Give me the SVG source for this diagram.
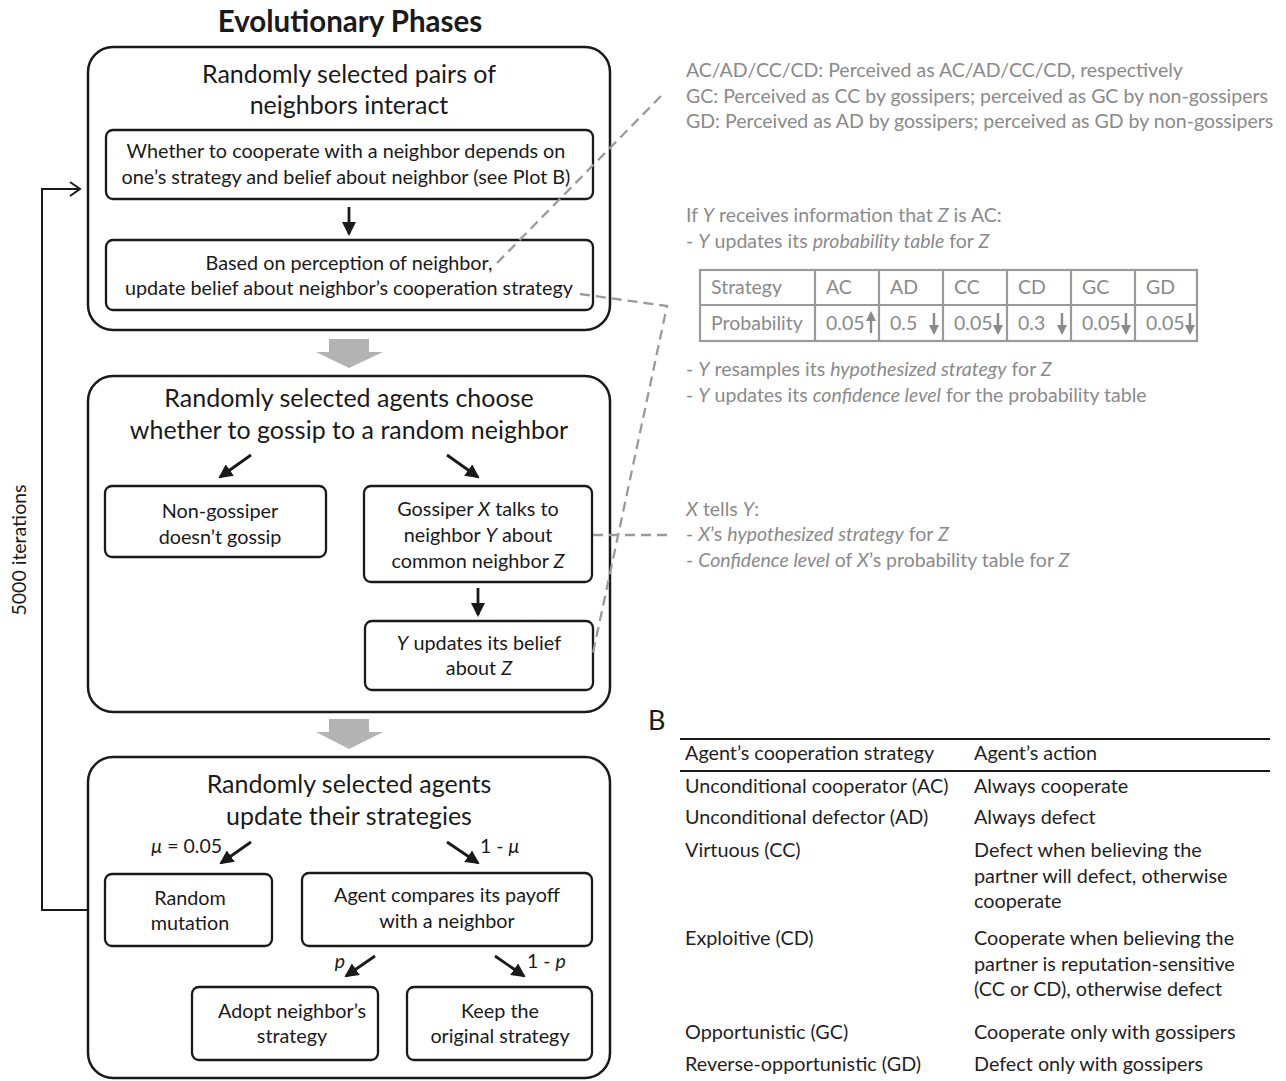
<svg xmlns="http://www.w3.org/2000/svg" width="1286" height="1081" viewBox="0 0 1286 1081">
<style>
text{font-family:Lato,"Open Sans","Liberation Sans",sans-serif;}
.title{font-size:29.5px;font-weight:bold;fill:#1a1a1a;text-anchor:middle;}
.outer{fill:none;stroke:#1a1a1a;stroke-width:2.5;}
.inner{fill:#fff;stroke:#1a1a1a;stroke-width:2.3;}
.h{font-size:25px;fill:#1a1a1a;text-anchor:middle;}
.t{font-size:19.8px;fill:#1a1a1a;text-anchor:middle;}
.lbl{font-size:19.5px;fill:#1a1a1a;}
.g{font-size:19.5px;fill:#8a8a8a;}
.gt{font-size:19.5px;fill:#8a8a8a;}
.b{font-size:19.8px;fill:#1f1f1f;}
.it{font-style:italic;}
.arr{stroke:#1a1a1a;stroke-width:2.8;fill:none;marker-end:url(#ah);}
.dash{stroke:#9a9a9a;stroke-width:2.3;fill:none;stroke-dasharray:10 6;}
.garr{stroke:#8a8a8a;stroke-width:2.4;fill:none;marker-end:url(#gah);}
.block{fill:#b3b3b3;}
</style>
<defs>
<marker id="ah" markerUnits="userSpaceOnUse" markerWidth="14" markerHeight="14" viewBox="0 0 14 14" refX="12" refY="7" orient="auto"><path d="M0,0 L14,7 L0,14 z" fill="#1a1a1a"/></marker>
<marker id="open" markerUnits="userSpaceOnUse" markerWidth="14" markerHeight="16" viewBox="0 0 14 16" refX="12" refY="8" orient="auto"><path d="M2,1 L12,8 L2,15" fill="none" stroke="#1a1a1a" stroke-width="2"/></marker>
<marker id="gah" markerUnits="userSpaceOnUse" markerWidth="10" markerHeight="10" viewBox="0 0 10 10" refX="8" refY="5" orient="auto"><path d="M0,0 L10,5 L0,10 z" fill="#8a8a8a"/></marker>
</defs>

<text class="title" x="350" y="32">Evolutionary Phases</text>

<!-- Phase 1 -->
<g id="phase1">
<rect class="outer" x="88" y="47" width="522" height="283" rx="25"/>
<text class="h" x="349" y="83">Randomly selected pairs of</text>
<text class="h" x="349" y="114">neighbors interact</text>
</g>
<g id="cooperate">
<rect class="inner" x="106" y="130" width="487" height="69" rx="7"/>
<text class="t" x="346" y="158">Whether to cooperate with a neighbor depends on</text>
<text class="t" x="346" y="184">one’s strategy and belief about neighbor (see Plot B)</text>
</g>
<g id="updateBelief">
<rect class="inner" x="106" y="240" width="487" height="70" rx="7"/>
<text class="t" x="349" y="270">Based on perception of neighbor,</text>
<text class="t" x="349" y="295">update belief about neighbor’s cooperation strategy</text>
</g>

<!-- Phase 2 -->
<g id="phase2">
<rect class="outer" x="88" y="376" width="522" height="336" rx="25"/>
<text class="h" x="349" y="407">Randomly selected agents choose</text>
<text class="h" x="349" y="439">whether to gossip to a random neighbor</text>
</g>
<g id="nongossiper">
<rect class="inner" x="105" y="486" width="221" height="71" rx="7"/>
<text class="t" x="220" y="518">Non-gossiper</text>
<text class="t" x="220" y="544">doesn’t gossip</text>
</g>
<g id="gossiper">
<rect class="inner" x="364" y="486" width="228" height="96" rx="7"/>
<text class="t" x="478" y="516">Gossiper <tspan class="it">X</tspan> talks to</text>
<text class="t" x="478" y="542">neighbor <tspan class="it">Y</tspan> about</text>
<text class="t" x="478" y="568">common neighbor <tspan class="it">Z</tspan></text>
</g>
<g id="yupdates">
<rect class="inner" x="365" y="621" width="228" height="69" rx="7"/>
<text class="t" x="479" y="650"><tspan class="it">Y</tspan> updates its belief</text>
<text class="t" x="479" y="675">about <tspan class="it">Z</tspan></text>
</g>

<!-- Phase 3 -->
<g id="phase3">
<rect class="outer" x="88" y="757" width="522" height="321" rx="25"/>
<text class="h" x="349" y="793">Randomly selected agents</text>
<text class="h" x="349" y="825">update their strategies</text>
</g>
<g id="mutation">
<rect class="inner" x="105" y="874" width="167" height="72" rx="7"/>
<text class="t" x="190" y="905">Random</text>
<text class="t" x="190" y="930">mutation</text>
</g>
<g id="compare">
<rect class="inner" x="302" y="873" width="290" height="73" rx="7"/>
<text class="t" x="447" y="902">Agent compares its payoff</text>
<text class="t" x="447" y="928">with a neighbor</text>
</g>
<g id="adopt">
<rect class="inner" x="192" y="987" width="186" height="73" rx="7"/>
<text class="t" x="292" y="1018">Adopt neighbor’s</text>
<text class="t" x="292" y="1043">strategy</text>
</g>
<g id="keep">
<rect class="inner" x="407" y="987" width="185" height="73" rx="7"/>
<text class="t" x="500" y="1018">Keep the</text>
<text class="t" x="500" y="1043">original strategy</text>
</g>

<!-- Connectors -->
<g id="connectors">
<line class="arr" x1="349" y1="207" x2="349" y2="234"/>
<polygon class="block" points="329,339 369,339 369,352 383,352 349,368 316,352 329,352"/>
<line class="arr" x1="251" y1="455" x2="220" y2="477"/>
<line class="arr" x1="447" y1="455" x2="478" y2="477"/>
<line class="arr" x1="478" y1="588" x2="478" y2="615"/>
<polygon class="block" points="329,719 369,719 369,732 383,732 349,749 316,732 329,732"/>
<line class="arr" x1="251" y1="842" x2="221" y2="863"/>
<line class="arr" x1="447" y1="842" x2="478" y2="863"/>
<line class="arr" x1="375" y1="956" x2="346" y2="976"/>
<line class="arr" x1="495" y1="956" x2="524" y2="976"/>
<text class="lbl" x="222" y="853" text-anchor="end"><tspan class="it">μ</tspan> = 0.05</text>
<text class="lbl" x="480" y="853">1 - <tspan class="it">μ</tspan></text>
<text class="lbl it" x="345" y="968" text-anchor="end">p</text>
<text class="lbl" x="527" y="968">1 - <tspan class="it">p</tspan></text>
<!-- loop -->
<polyline points="88,910 42,910 42,189 80,189" fill="none" stroke="#1a1a1a" stroke-width="2" marker-end="url(#open)"/>
<text class="lbl" transform="translate(26,550) rotate(-90)" text-anchor="middle" font-size="19">5000 iterations</text>
<!-- dashed callouts -->
<polyline class="dash" points="497,263 662,95"/>
<polyline class="dash" points="580,294 667,306 593,653"/>
<polyline class="dash" points="593,535 667,535"/>
</g>

<!-- Right annotations -->
<g id="perception">
<text class="g" x="686" y="77">AC/AD/CC/CD: Perceived as AC/AD/CC/CD, respectively</text>
<text class="g" x="686" y="103">GC: Perceived as CC by gossipers; perceived as GC by non-gossipers</text>
<text class="g" x="686" y="128">GD: Perceived as AD by gossipers; perceived as GD by non-gossipers</text>
</g>
<g id="beliefUpdate">
<text class="g" x="686" y="222">If <tspan class="it">Y</tspan> receives information that <tspan class="it">Z</tspan> is AC:</text>
<text class="g" x="686" y="248">- <tspan class="it">Y</tspan> updates its <tspan class="it">probability table</tspan> for <tspan class="it">Z</tspan></text>
<g id="probTable" stroke="#9a9a9a" stroke-width="2.2" fill="none">
<rect x="700" y="270" width="497" height="71"/>
<line x1="700" y1="305" x2="1197" y2="305"/>
<line x1="815" y1="270" x2="815" y2="341"/>
<line x1="879" y1="270" x2="879" y2="341"/>
<line x1="943" y1="270" x2="943" y2="341"/>
<line x1="1007" y1="270" x2="1007" y2="341"/>
<line x1="1071" y1="270" x2="1071" y2="341"/>
<line x1="1135" y1="270" x2="1135" y2="341"/>
</g>
<text class="gt" x="711" y="294">Strategy</text>
<text class="gt" x="826" y="294">AC</text>
<text class="gt" x="890" y="294">AD</text>
<text class="gt" x="954" y="294">CC</text>
<text class="gt" x="1018" y="294">CD</text>
<text class="gt" x="1082" y="294">GC</text>
<text class="gt" x="1146" y="294">GD</text>
<text class="gt" x="711" y="330">Probability</text>
<text class="gt" x="826" y="330">0.05</text>
<text class="gt" x="890" y="330">0.5</text>
<text class="gt" x="954" y="330">0.05</text>
<text class="gt" x="1018" y="330">0.3</text>
<text class="gt" x="1082" y="330">0.05</text>
<text class="gt" x="1146" y="330">0.05</text>
<line class="garr" x1="871" y1="333" x2="871" y2="313"/>
<line class="garr" x1="934" y1="313" x2="934" y2="333"/>
<line class="garr" x1="998" y1="313" x2="998" y2="333"/>
<line class="garr" x1="1062" y1="313" x2="1062" y2="333"/>
<line class="garr" x1="1126" y1="313" x2="1126" y2="333"/>
<line class="garr" x1="1190" y1="313" x2="1190" y2="333"/>
<text class="g" x="686" y="376">- <tspan class="it">Y</tspan> resamples its <tspan class="it">hypothesized strategy</tspan> for <tspan class="it">Z</tspan></text>
<text class="g" x="686" y="402">- <tspan class="it">Y</tspan> updates its <tspan class="it">confidence level</tspan> for the probability table</text>
</g>
<g id="xtellsy">
<text class="g" x="686" y="516"><tspan class="it">X</tspan> tells <tspan class="it">Y</tspan>:</text>
<text class="g" x="686" y="541">- <tspan class="it">X</tspan>’s <tspan class="it">hypothesized strategy</tspan> for <tspan class="it">Z</tspan></text>
<text class="g" x="686" y="567">- <tspan class="it">Confidence level</tspan> of <tspan class="it">X</tspan>’s probability table for <tspan class="it">Z</tspan></text>
</g>

<!-- Plot B -->
<g id="plotB">
<text x="648" y="730" font-size="27" fill="#1a1a1a">B</text>
<line x1="680" y1="739" x2="1270" y2="739" stroke="#1a1a1a" stroke-width="2"/>
<line x1="680" y1="771" x2="1270" y2="771" stroke="#1a1a1a" stroke-width="2"/>
<text class="b" x="685" y="760">Agent’s cooperation strategy</text>
<text class="b" x="974" y="760">Agent’s action</text>
<text class="b" x="685" y="793">Unconditional cooperator (AC)</text>
<text class="b" x="974" y="793">Always cooperate</text>
<text class="b" x="685" y="824">Unconditional defector (AD)</text>
<text class="b" x="974" y="824">Always defect</text>
<text class="b" x="685" y="857">Virtuous (CC)</text>
<text class="b" x="974" y="857">Defect when believing the</text>
<text class="b" x="974" y="883">partner will defect, otherwise</text>
<text class="b" x="974" y="908">cooperate</text>
<text class="b" x="685" y="945">Exploitive (CD)</text>
<text class="b" x="974" y="945">Cooperate when believing the</text>
<text class="b" x="974" y="971">partner is reputation-sensitive</text>
<text class="b" x="974" y="996">(CC or CD), otherwise defect</text>
<text class="b" x="685" y="1039">Opportunistic (GC)</text>
<text class="b" x="974" y="1039">Cooperate only with gossipers</text>
<text class="b" x="685" y="1071">Reverse-opportunistic (GD)</text>
<text class="b" x="974" y="1071">Defect only with gossipers</text>
</g>
</svg>
